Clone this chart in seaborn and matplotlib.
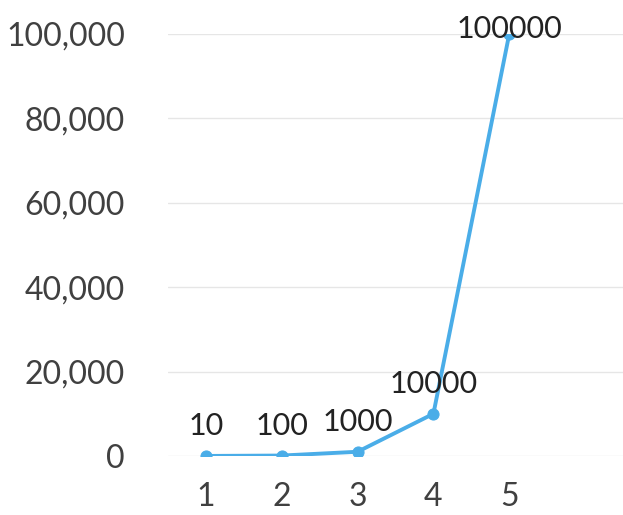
import matplotlib
matplotlib.use("Agg")
import matplotlib.pyplot as plt
import seaborn as sns
import pandas as pd

# Series values
positions = [1, 2, 3, 4, 5]
values = [10, 100, 1000, 10000, 100000]
value_labels = ["10", "100", "1000", "10000", "100000"]
y_ticks = [0, 20000, 40000, 60000, 80000, 100000]
y_tick_labels = ["0", "20,000", "40,000", "60,000", "80,000", "100,000"]

df = pd.DataFrame({"x": positions, "y": values})

sns.set_theme(style="white")
plt.rcParams["font.family"] = ["Lato", "DejaVu Sans"]

fig = plt.figure(figsize=(6.23, 5.15), dpi=100)
ax = fig.add_axes([0.2697, 0.1146, 0.7303, 0.8194])

line_color = "#4aade8"
sns.lineplot(data=df, x="x", y="y", ax=ax, color=line_color, linewidth=2.8,
             marker="o", markersize=8, markeredgecolor=line_color, zorder=3)

ax.set_xlim(0.5, 6.5)
ax.set_ylim(0, 100000)
ax.set_xticks(positions)
ax.set_xticklabels([str(p) for p in positions])
ax.set_yticks(y_ticks)
ax.set_yticklabels(y_tick_labels)
ax.set_xlabel("")
ax.set_ylabel("")

ax.grid(axis="y", color="#e6e6e6", linewidth=1.0)
ax.grid(axis="x", visible=False)
for s in ax.spines.values():
    s.set_visible(False)

ax.tick_params(axis="y", length=0, pad=31, labelsize=23, labelcolor="#404040")
ax.tick_params(axis="x", length=0, pad=19, labelsize=23, labelcolor="#404040")

# Value labels above each point
offsets = [15, 15, 15, 15, -3]
for x, y, lab, off in zip(positions, values, value_labels, offsets):
    ax.annotate(lab, xy=(x, y), xytext=(0, off), textcoords="offset points",
                ha="center", va="baseline", fontsize=22, color="#222222",
                annotation_clip=False, zorder=4)

fig.savefig("out.png", dpi=100)
